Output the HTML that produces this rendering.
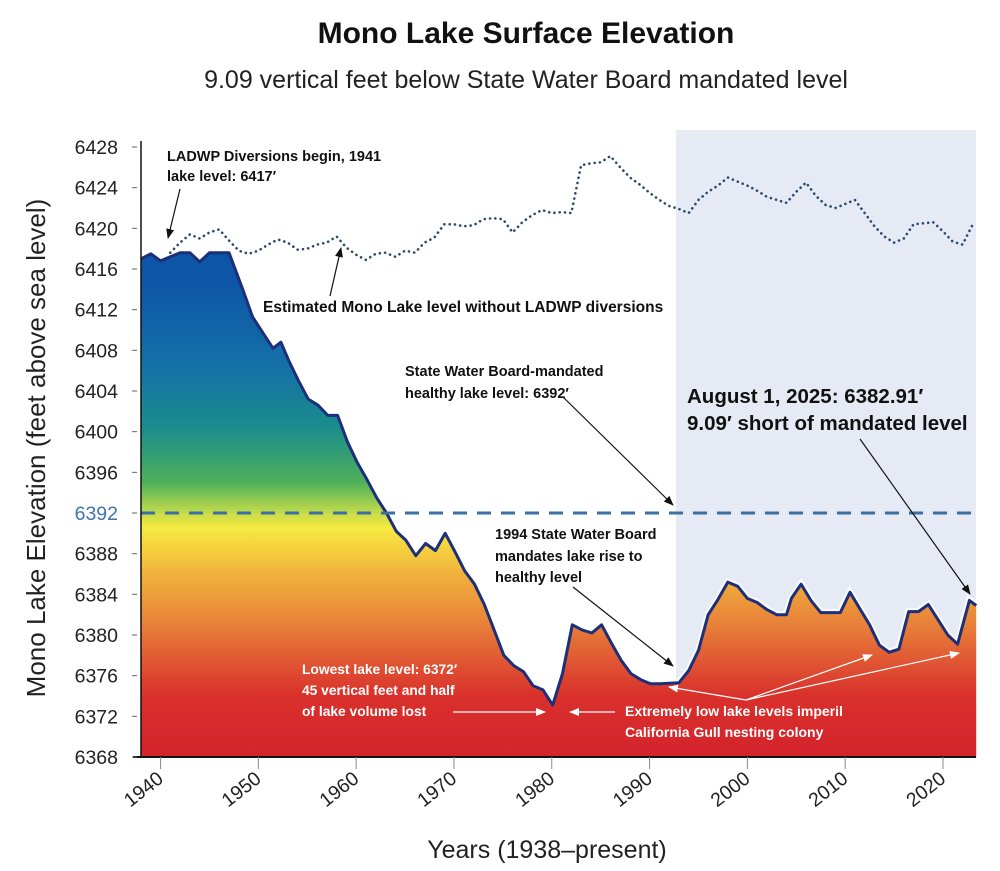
<!DOCTYPE html>
<html><head><meta charset="utf-8"><style>
body{margin:0;background:#fff;}
svg{display:block;font-family:"Liberation Sans",sans-serif;}
</style></head><body>
<svg id="chart" width="1000" height="871" viewBox="0 0 1000 871" xmlns="http://www.w3.org/2000/svg">
<defs>
<linearGradient id="lakeGrad" gradientUnits="userSpaceOnUse" x1="0" y1="147" x2="0" y2="757">
<stop offset="0.22" stop-color="#0d55a6"/>
<stop offset="0.36" stop-color="#1570a8"/>
<stop offset="0.46" stop-color="#1a8d8c"/>
<stop offset="0.55" stop-color="#4fb05a"/>
<stop offset="0.6" stop-color="#c4dc4a"/>
<stop offset="0.625" stop-color="#f7ea40"/>
<stop offset="0.7" stop-color="#f1b23c"/>
<stop offset="0.78" stop-color="#e8823a"/>
<stop offset="0.9" stop-color="#d9302c"/>
<stop offset="1" stop-color="#d4232c"/>
</linearGradient>
<marker id="arrB" markerWidth="10" markerHeight="10" refX="9" refY="5" orient="auto" markerUnits="userSpaceOnUse"><path d="M0,1 L10,5 L0,9 Z" fill="#111"/></marker>
<marker id="arrW" markerWidth="10" markerHeight="10" refX="9" refY="5" orient="auto" markerUnits="userSpaceOnUse"><path d="M0,1 L10,5 L0,9 Z" fill="#fff"/></marker>
</defs>
<text x="526" y="43" text-anchor="middle" font-size="30" font-weight="bold" fill="#111">Mono Lake Surface Elevation</text>
<text x="526" y="88" text-anchor="middle" font-size="25" fill="#222">9.09 vertical feet below State Water Board mandated level</text>
<rect x="676" y="130" width="300" height="627" fill="#e6eaf5"/>
<g id="plot"></g>
<text transform="translate(45,448) rotate(-90)" text-anchor="middle" font-size="26" fill="#222">Mono Lake Elevation  (feet above sea level)</text>
<text x="547" y="858" text-anchor="middle" font-size="25" fill="#222">Years (1938–present)</text>
<g font-weight="bold" fill="#111">
<text x="167" y="161" font-size="14.5">LADWP Diversions begin, 1941</text>
<text x="167" y="181" font-size="14.5">lake level: 6417′</text>
<line x1="180" y1="189" x2="168" y2="238" stroke="#111" stroke-width="1.2" marker-end="url(#arrB)"/>
<text x="263" y="312" font-size="15.5">Estimated Mono Lake level without LADWP diversions</text>
<line x1="330" y1="296" x2="341" y2="248" stroke="#111" stroke-width="1.2" marker-end="url(#arrB)"/>
<text x="405" y="376" font-size="14.5">State Water Board-mandated</text>
<text x="405" y="398" font-size="14.5">healthy lake level: 6392′</text>
<line x1="563" y1="397" x2="673" y2="505" stroke="#111" stroke-width="1.2" marker-end="url(#arrB)"/>
<text x="687" y="403" font-size="20.5">August 1, 2025: 6382.91′</text>
<text x="687" y="430" font-size="20.5">9.09′ short of mandated level</text>
<line x1="860" y1="439" x2="970" y2="594" stroke="#111" stroke-width="1.2" marker-end="url(#arrB)"/>
<text x="495" y="539" font-size="14.5">1994 State Water Board</text>
<text x="495" y="561" font-size="14.5">mandates lake rise to</text>
<text x="495" y="582" font-size="14.5">healthy level</text>
<line x1="573" y1="587" x2="673" y2="666" stroke="#111" stroke-width="1.2" marker-end="url(#arrB)"/>
</g>
<g font-weight="bold" fill="#fff">
<text x="302" y="674" font-size="13.8">Lowest lake level: 6372′</text>
<text x="302" y="695" font-size="13.8">45 vertical feet and half</text>
<text x="302" y="716" font-size="13.8">of lake volume lost</text>
<line x1="453" y1="712" x2="545" y2="712" stroke="#fff" stroke-width="1.2" marker-end="url(#arrW)"/>
<text x="625" y="716" font-size="14">Extremely low lake levels imperil</text>
<text x="625" y="737" font-size="14">California Gull nesting colony</text>
<line x1="615" y1="712" x2="570" y2="712" stroke="#fff" stroke-width="1.2" marker-end="url(#arrW)"/>
<line x1="746" y1="700" x2="669" y2="687" stroke="#fff" stroke-width="1.2" marker-end="url(#arrW)"/>
<line x1="746" y1="700" x2="872" y2="655" stroke="#fff" stroke-width="1.2" marker-end="url(#arrW)"/>
<line x1="746" y1="700" x2="959" y2="653" stroke="#fff" stroke-width="1.2" marker-end="url(#arrW)"/>
</g>
</svg>
<script>
const lakeYears = [1938,1939,1940,1941,1942,1943,1944,1945,1946,1947,
1948.4,1949.4,1950.4,1951.5,1952.3,
1953.1,1954.1,1955.1,1956.1,1957.1,1958.1,1959.1,1960.1,1961.1,1962.1,1963.1,1964.1,1965.1,1966.1,1967.1,1968.1,1969.1,1970.1,1971.1,1972.1,1973.1,1974.1,1975.1,1976.1,1977.1,1978.1,1979.1,1980.1,1981.1,1982.1,1983.1,1984.1,1985.1,1986.1,1987.1,1988.1,1989.1,1990.1,1991.1,
1993,1994,1995,1996,1997,1998,1999,2000,2001,2002,2003,2004,
2004.5,2005.5,2006.5,2007.5,2008.5,2009.5,2010.5,2011.5,2012.5,2013.5,2014.5,2015.5,2016.5,2017.5,2018.5,2019.5,2020.5,2021.5,2022.7,2023.4];
const lakeLevels = [6417.0,6417.5,6416.8,6417.2,6417.6,6417.6,6416.7,6417.6,6417.6,6417.6,
6414,6411.3,6409.8,6408.2,6408.8,
6407,6405,6403.2,6402.6,6401.6,6401.6,6399,6397,6395.3,6393.5,6392,6390.2,6389.3,6387.8,6389,6388.3,6390,6388.2,6386.3,6385,6383,6380.5,6378,6377,6376.4,6375,6374.6,6373.1,6376.2,6381,6380.5,6380.2,6381,6379.2,6377.5,6376.2,6375.6,6375.2,6375.2,
6375.3,6376.5,6378.5,6382,6383.5,6385.2,6384.8,6383.6,6383.2,6382.5,6382,6382,
6383.6,6385,6383.4,6382.2,6382.2,6382.2,6384.2,6382.6,6381,6379,6378.3,6378.6,6382.3,6382.3,6383,6381.5,6380,6379.1,6383.4,6382.9];
const estYears = [1941,1942,1943,1944,1945,1946,1947,1948,1949,1950,1951,1952,1953,1954,1955,1956,1957,1958,1959,1960,1961,1962,1963,1964,1965,1966,1967,1968,1969,1970,1971,1972,1973,1974,1975,1976,1977,1978,1979,1980,1981,1982,1983,1984,1985,1986,1987,1988,1989,1990,1991,1992,1993,1994,1995,1996,1997,1998,1999,2000,2001,2002,2003,2004,2005,2006,2007,2008,2009,2010,2011,2012,2013,2014,2015,2016,2017,2018,2019,2020,2021,2022,2023];
const estLevels = [6417.6,6418.6,6419.4,6419,6419.6,6419.9,6418.8,6417.8,6417.5,6417.8,6418.4,6418.9,6418.6,6417.9,6418,6418.4,6418.6,6419.2,6418.1,6417.4,6416.9,6417.5,6417.6,6417.2,6417.8,6417.6,6418.6,6419.1,6420.4,6420.4,6420.2,6420.3,6420.9,6421,6420.9,6419.6,6420.6,6421.3,6421.8,6421.5,6421.6,6421.5,6426.2,6426.4,6426.5,6427.1,6426,6425,6424.3,6423.5,6422.8,6422.2,6421.9,6421.5,6422.8,6423.6,6424.2,6425,6424.6,6424.2,6423.7,6423.1,6422.8,6422.5,6423.6,6424.5,6423.2,6422.3,6422,6422.4,6422.8,6421.5,6420.2,6419.2,6418.6,6419,6420.4,6420.5,6420.6,6419.7,6418.7,6418.4,6420.3];
const yTicks = [6428,6424,6420,6416,6412,6408,6404,6400,6396,6392,6388,6384,6380,6376,6372,6368];
const xTicks = [1940,1950,1960,1970,1980,1990,2000,2010,2020];
const mandatedLevel = [6392];

const X0=141, X1=976, Y0=147, Y1=757;
const xScale = yr => X0 + (yr-1938)*9.78;
const yScale = v => Y0 + (6428-v)*(Y1-Y0)/60;
const NS="http://www.w3.org/2000/svg";
const plot=document.getElementById('plot');
function mk(tag, attrs, parent){const e=document.createElementNS(NS,tag);for(const k in attrs)e.setAttribute(k,attrs[k]);(parent||plot).appendChild(e);return e;}

let d = `M${xScale(lakeYears[0])},${Y1}`;
lakeYears.forEach((y,i)=>{d+=` L${xScale(y).toFixed(1)},${yScale(lakeLevels[i]).toFixed(1)}`;});
d += ` L${xScale(lakeYears[lakeYears.length-1]).toFixed(1)},${Y1} Z`;
const glow = mk('path',{d:d,fill:'none',stroke:'#ffffff','stroke-width':7,opacity:0.8});


const area = mk('path',{d:d,fill:'url(#lakeGrad)'});


let ld = '';
lakeYears.forEach((y,i)=>{ld+=(i?' L':'M')+xScale(y).toFixed(1)+','+yScale(lakeLevels[i]).toFixed(1);});
const line = mk('path',{d:ld,fill:'none',stroke:'#1c2f78','stroke-width':3,'stroke-linejoin':'round'});



let ed='';
estYears.forEach((y,i)=>{ed+=(i?' L':'M')+xScale(y).toFixed(1)+','+yScale(estLevels[i]).toFixed(1);});
const est = mk('path',{d:ed,fill:'none',stroke:'#2c4a6e','stroke-width':2.6,'stroke-dasharray':'0.1 5.2','stroke-linecap':'round'});



mandatedLevel.forEach(v=>{
  const m = mk('line',{x1:X0,x2:X1,y1:yScale(v),y2:yScale(v),stroke:'#3e6fa3','stroke-width':3,'stroke-dasharray':'14 10'});
  
  
});

const ya = mk('line',{x1:X0,x2:X0,y1:Y0-6,y2:Y1,stroke:'#111','stroke-width':1.5});


const xa = mk('line',{x1:X0-8,x2:X1,y1:Y1,y2:Y1,stroke:'#111','stroke-width':2});


yTicks.forEach(v=>{
  const y=yScale(v);
  const t = mk('line',{x1:X0-9,x2:X0-4,y1:y,y2:y,stroke:'#666','stroke-width':1});
  
  
  const lb = mk('text',{x:118,y:y+7,'text-anchor':'end','font-size':19.5,fill: v===6392?'#3e73ad':'#222'});
  lb.textContent=v;
  
  
});
xTicks.forEach(v=>{
  const x=xScale(v);
  const t = mk('line',{x1:x,x2:x,y1:Y1,y2:Y1+12,stroke:'#888','stroke-width':1});
  
  
  const lb = mk('text',{transform:`translate(${x+4},${Y1+24}) rotate(-38)`,'text-anchor':'end','font-size':19.5,fill:'#222'});
  lb.textContent=v;
  
  
});
</script>
</body></html>
